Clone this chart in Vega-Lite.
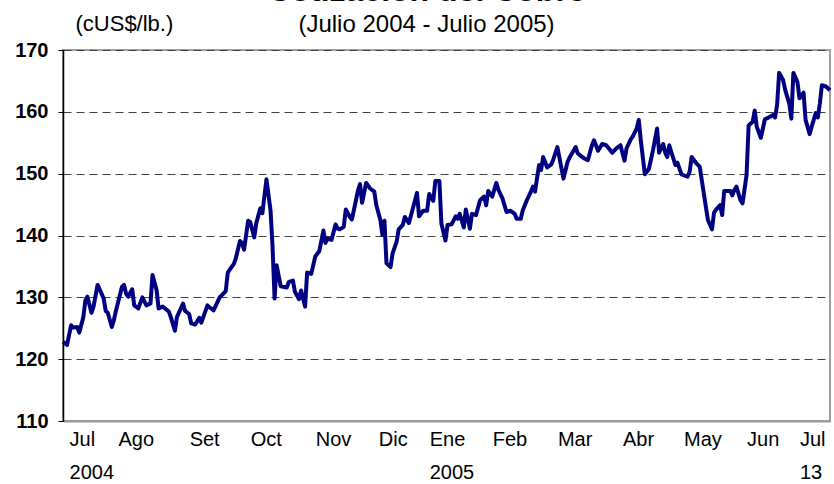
{
  "$schema": "https://vega.github.io/schema/vega-lite/v6.json",
  "autosize": {"type": "none"},
  "width": 767,
  "height": 371,
  "padding": {"left": 63, "top": 50, "right": 4, "bottom": 63},
  "background": "white",
  "config": {
    "font": "Liberation Sans",
    "view": {"stroke": "#a0a0a0", "strokeWidth": 2}
  },
  "title": {
    "text": "Cotización del Cobre",
    "subtitle": "(Julio 2004 - Julio 2005)",
    "fontSize": 32,
    "fontWeight": "bold",
    "color": "black",
    "subtitleFontSize": 24,
    "subtitleColor": "black",
    "subtitlePadding": 5,
    "anchor": "middle",
    "dx": -20,
    "dy": 39,
    "offset": 13
  },
  "data": {
    "values": [
      {"fecha": "2004-07-01", "precio": 122.8},
      {"fecha": "2004-07-03", "precio": 122.3},
      {"fecha": "2004-07-05", "precio": 125.5},
      {"fecha": "2004-07-06", "precio": 125.1},
      {"fecha": "2004-07-08", "precio": 125.2},
      {"fecha": "2004-07-09", "precio": 124.3},
      {"fecha": "2004-07-11", "precio": 126.8},
      {"fecha": "2004-07-12", "precio": 129.5},
      {"fecha": "2004-07-13", "precio": 130.1},
      {"fecha": "2004-07-15", "precio": 127.5},
      {"fecha": "2004-07-16", "precio": 128.5},
      {"fecha": "2004-07-18", "precio": 132.0},
      {"fecha": "2004-07-19", "precio": 131.3},
      {"fecha": "2004-07-21", "precio": 129.8},
      {"fecha": "2004-07-22", "precio": 127.8},
      {"fecha": "2004-07-23", "precio": 127.5},
      {"fecha": "2004-07-25", "precio": 125.2},
      {"fecha": "2004-07-26", "precio": 126.3},
      {"fecha": "2004-07-27", "precio": 127.8},
      {"fecha": "2004-07-30", "precio": 131.7},
      {"fecha": "2004-07-31", "precio": 132.0},
      {"fecha": "2004-08-01", "precio": 130.6},
      {"fecha": "2004-08-02", "precio": 130.1},
      {"fecha": "2004-08-04", "precio": 131.3},
      {"fecha": "2004-08-05", "precio": 128.7},
      {"fecha": "2004-08-07", "precio": 128.2},
      {"fecha": "2004-08-09", "precio": 130.0},
      {"fecha": "2004-08-11", "precio": 128.7},
      {"fecha": "2004-08-13", "precio": 129.0},
      {"fecha": "2004-08-14", "precio": 133.6},
      {"fecha": "2004-08-16", "precio": 131.2},
      {"fecha": "2004-08-17", "precio": 128.2},
      {"fecha": "2004-08-19", "precio": 128.5},
      {"fecha": "2004-08-22", "precio": 127.7},
      {"fecha": "2004-08-23", "precio": 126.8},
      {"fecha": "2004-08-25", "precio": 124.6},
      {"fecha": "2004-08-26", "precio": 126.8},
      {"fecha": "2004-08-29", "precio": 129.0},
      {"fecha": "2004-08-30", "precio": 127.8},
      {"fecha": "2004-09-01", "precio": 127.3},
      {"fecha": "2004-09-02", "precio": 125.8},
      {"fecha": "2004-09-04", "precio": 125.6},
      {"fecha": "2004-09-06", "precio": 126.7},
      {"fecha": "2004-09-07", "precio": 125.9},
      {"fecha": "2004-09-10", "precio": 128.7},
      {"fecha": "2004-09-11", "precio": 128.4},
      {"fecha": "2004-09-13", "precio": 127.9},
      {"fecha": "2004-09-16", "precio": 130.0},
      {"fecha": "2004-09-17", "precio": 130.3},
      {"fecha": "2004-09-19", "precio": 131.0},
      {"fecha": "2004-09-20", "precio": 134.0},
      {"fecha": "2004-09-21", "precio": 134.5},
      {"fecha": "2004-09-23", "precio": 135.4},
      {"fecha": "2004-09-24", "precio": 136.4},
      {"fecha": "2004-09-26", "precio": 139.1},
      {"fecha": "2004-09-27", "precio": 138.8},
      {"fecha": "2004-09-28", "precio": 137.7},
      {"fecha": "2004-09-30", "precio": 142.4},
      {"fecha": "2004-10-01", "precio": 142.2},
      {"fecha": "2004-10-03", "precio": 139.7},
      {"fecha": "2004-10-04", "precio": 142.0},
      {"fecha": "2004-10-06", "precio": 144.4},
      {"fecha": "2004-10-07", "precio": 143.6},
      {"fecha": "2004-10-09", "precio": 149.1},
      {"fecha": "2004-10-11", "precio": 144.1},
      {"fecha": "2004-10-12", "precio": 138.2},
      {"fecha": "2004-10-13", "precio": 129.8},
      {"fecha": "2004-10-14", "precio": 135.2},
      {"fecha": "2004-10-16", "precio": 131.8},
      {"fecha": "2004-10-19", "precio": 131.6},
      {"fecha": "2004-10-20", "precio": 132.5},
      {"fecha": "2004-10-22", "precio": 132.7},
      {"fecha": "2004-10-23", "precio": 130.9},
      {"fecha": "2004-10-25", "precio": 129.7},
      {"fecha": "2004-10-26", "precio": 131.1},
      {"fecha": "2004-10-28", "precio": 128.5},
      {"fecha": "2004-10-29", "precio": 134.0},
      {"fecha": "2004-10-31", "precio": 133.8},
      {"fecha": "2004-11-02", "precio": 136.6},
      {"fecha": "2004-11-04", "precio": 137.5},
      {"fecha": "2004-11-06", "precio": 140.8},
      {"fecha": "2004-11-07", "precio": 138.8},
      {"fecha": "2004-11-08", "precio": 139.5},
      {"fecha": "2004-11-10", "precio": 139.3},
      {"fecha": "2004-11-12", "precio": 141.8},
      {"fecha": "2004-11-13", "precio": 141.1},
      {"fecha": "2004-11-14", "precio": 141.0},
      {"fecha": "2004-11-16", "precio": 141.4},
      {"fecha": "2004-11-17", "precio": 144.2},
      {"fecha": "2004-11-19", "precio": 143.0},
      {"fecha": "2004-11-20", "precio": 142.6},
      {"fecha": "2004-11-22", "precio": 145.7},
      {"fecha": "2004-11-23", "precio": 147.3},
      {"fecha": "2004-11-24", "precio": 148.3},
      {"fecha": "2004-11-25", "precio": 145.3},
      {"fecha": "2004-11-27", "precio": 148.5},
      {"fecha": "2004-11-29", "precio": 147.6},
      {"fecha": "2004-12-01", "precio": 147.1},
      {"fecha": "2004-12-02", "precio": 144.9},
      {"fecha": "2004-12-04", "precio": 142.5},
      {"fecha": "2004-12-05", "precio": 140.1},
      {"fecha": "2004-12-06", "precio": 142.4},
      {"fecha": "2004-12-07", "precio": 135.5},
      {"fecha": "2004-12-09", "precio": 134.9},
      {"fecha": "2004-12-10", "precio": 137.1},
      {"fecha": "2004-12-12", "precio": 139.0},
      {"fecha": "2004-12-13", "precio": 141.0},
      {"fecha": "2004-12-15", "precio": 141.7},
      {"fecha": "2004-12-16", "precio": 143.0},
      {"fecha": "2004-12-18", "precio": 142.0},
      {"fecha": "2004-12-20", "precio": 144.4},
      {"fecha": "2004-12-22", "precio": 146.9},
      {"fecha": "2004-12-23", "precio": 143.1},
      {"fecha": "2004-12-25", "precio": 144.0},
      {"fecha": "2004-12-27", "precio": 144.0},
      {"fecha": "2004-12-28", "precio": 146.7},
      {"fecha": "2004-12-30", "precio": 145.6},
      {"fecha": "2004-12-31", "precio": 148.8},
      {"fecha": "2005-01-02", "precio": 148.8},
      {"fecha": "2005-01-03", "precio": 141.9},
      {"fecha": "2005-01-05", "precio": 139.2},
      {"fecha": "2005-01-06", "precio": 141.7},
      {"fecha": "2005-01-08", "precio": 141.8},
      {"fecha": "2005-01-10", "precio": 143.1},
      {"fecha": "2005-01-11", "precio": 142.7},
      {"fecha": "2005-01-12", "precio": 143.5},
      {"fecha": "2005-01-14", "precio": 141.3},
      {"fecha": "2005-01-15", "precio": 144.2},
      {"fecha": "2005-01-17", "precio": 141.1},
      {"fecha": "2005-01-18", "precio": 143.5},
      {"fecha": "2005-01-20", "precio": 143.3},
      {"fecha": "2005-01-22", "precio": 145.7},
      {"fecha": "2005-01-24", "precio": 146.3},
      {"fecha": "2005-01-25", "precio": 144.9},
      {"fecha": "2005-01-26", "precio": 147.2},
      {"fecha": "2005-01-28", "precio": 146.3},
      {"fecha": "2005-01-30", "precio": 148.5},
      {"fecha": "2005-01-31", "precio": 147.4},
      {"fecha": "2005-02-02", "precio": 146.0},
      {"fecha": "2005-02-04", "precio": 143.8},
      {"fecha": "2005-02-06", "precio": 144.0},
      {"fecha": "2005-02-08", "precio": 143.5},
      {"fecha": "2005-02-09", "precio": 142.7},
      {"fecha": "2005-02-11", "precio": 142.7},
      {"fecha": "2005-02-12", "precio": 144.1},
      {"fecha": "2005-02-14", "precio": 145.7},
      {"fecha": "2005-02-16", "precio": 147.1},
      {"fecha": "2005-02-17", "precio": 147.9},
      {"fecha": "2005-02-18", "precio": 147.1},
      {"fecha": "2005-02-20", "precio": 151.4},
      {"fecha": "2005-02-21", "precio": 150.6},
      {"fecha": "2005-02-22", "precio": 152.7},
      {"fecha": "2005-02-24", "precio": 151.0},
      {"fecha": "2005-02-26", "precio": 151.5},
      {"fecha": "2005-02-27", "precio": 152.3},
      {"fecha": "2005-03-01", "precio": 154.3},
      {"fecha": "2005-03-04", "precio": 149.2},
      {"fecha": "2005-03-06", "precio": 151.9},
      {"fecha": "2005-03-07", "precio": 152.6},
      {"fecha": "2005-03-10", "precio": 154.3},
      {"fecha": "2005-03-11", "precio": 153.3},
      {"fecha": "2005-03-12", "precio": 153.0},
      {"fecha": "2005-03-14", "precio": 152.5},
      {"fecha": "2005-03-16", "precio": 152.2},
      {"fecha": "2005-03-18", "precio": 154.6},
      {"fecha": "2005-03-19", "precio": 155.4},
      {"fecha": "2005-03-21", "precio": 153.7},
      {"fecha": "2005-03-23", "precio": 154.8},
      {"fecha": "2005-03-25", "precio": 154.6},
      {"fecha": "2005-03-28", "precio": 153.4},
      {"fecha": "2005-03-30", "precio": 154.1},
      {"fecha": "2005-04-01", "precio": 154.6},
      {"fecha": "2005-04-03", "precio": 152.1},
      {"fecha": "2005-04-04", "precio": 154.1},
      {"fecha": "2005-04-06", "precio": 155.5},
      {"fecha": "2005-04-07", "precio": 156.0},
      {"fecha": "2005-04-09", "precio": 157.3},
      {"fecha": "2005-04-10", "precio": 158.7},
      {"fecha": "2005-04-11", "precio": 155.4},
      {"fecha": "2005-04-13", "precio": 149.9},
      {"fecha": "2005-04-15", "precio": 150.8},
      {"fecha": "2005-04-17", "precio": 153.8},
      {"fecha": "2005-04-19", "precio": 157.3},
      {"fecha": "2005-04-20", "precio": 153.4},
      {"fecha": "2005-04-22", "precio": 154.8},
      {"fecha": "2005-04-23", "precio": 153.4},
      {"fecha": "2005-04-24", "precio": 152.7},
      {"fecha": "2005-04-25", "precio": 154.6},
      {"fecha": "2005-04-26", "precio": 153.5},
      {"fecha": "2005-04-28", "precio": 151.4},
      {"fecha": "2005-04-29", "precio": 151.8},
      {"fecha": "2005-05-01", "precio": 149.9},
      {"fecha": "2005-05-04", "precio": 149.5},
      {"fecha": "2005-05-05", "precio": 150.3},
      {"fecha": "2005-05-06", "precio": 152.7},
      {"fecha": "2005-05-08", "precio": 151.8},
      {"fecha": "2005-05-10", "precio": 151.1},
      {"fecha": "2005-05-11", "precio": 148.9},
      {"fecha": "2005-05-13", "precio": 144.6},
      {"fecha": "2005-05-14", "precio": 142.5},
      {"fecha": "2005-05-16", "precio": 141.0},
      {"fecha": "2005-05-17", "precio": 143.7},
      {"fecha": "2005-05-18", "precio": 144.2},
      {"fecha": "2005-05-20", "precio": 144.9},
      {"fecha": "2005-05-21", "precio": 143.3},
      {"fecha": "2005-05-22", "precio": 147.2},
      {"fecha": "2005-05-25", "precio": 147.2},
      {"fecha": "2005-05-26", "precio": 146.5},
      {"fecha": "2005-05-27", "precio": 147.4},
      {"fecha": "2005-05-28", "precio": 147.9},
      {"fecha": "2005-05-30", "precio": 145.7},
      {"fecha": "2005-05-31", "precio": 145.2},
      {"fecha": "2005-06-02", "precio": 149.8},
      {"fecha": "2005-06-03", "precio": 157.8},
      {"fecha": "2005-06-05", "precio": 158.4},
      {"fecha": "2005-06-06", "precio": 160.2},
      {"fecha": "2005-06-07", "precio": 157.6},
      {"fecha": "2005-06-09", "precio": 155.8},
      {"fecha": "2005-06-10", "precio": 157.3},
      {"fecha": "2005-06-11", "precio": 158.8},
      {"fecha": "2005-06-13", "precio": 159.1},
      {"fecha": "2005-06-15", "precio": 159.5},
      {"fecha": "2005-06-16", "precio": 159.1},
      {"fecha": "2005-06-17", "precio": 161.1},
      {"fecha": "2005-06-18", "precio": 166.3},
      {"fecha": "2005-06-20", "precio": 165.1},
      {"fecha": "2005-06-21", "precio": 163.5},
      {"fecha": "2005-06-23", "precio": 161.3},
      {"fecha": "2005-06-24", "precio": 158.9},
      {"fecha": "2005-06-25", "precio": 166.3},
      {"fecha": "2005-06-27", "precio": 164.8},
      {"fecha": "2005-06-28", "precio": 162.2},
      {"fecha": "2005-06-30", "precio": 163.1},
      {"fecha": "2005-07-01", "precio": 158.7},
      {"fecha": "2005-07-03", "precio": 156.4},
      {"fecha": "2005-07-04", "precio": 157.6},
      {"fecha": "2005-07-06", "precio": 159.8},
      {"fecha": "2005-07-07", "precio": 159.1},
      {"fecha": "2005-07-08", "precio": 161.3},
      {"fecha": "2005-07-09", "precio": 164.3},
      {"fecha": "2005-07-11", "precio": 164.1},
      {"fecha": "2005-07-13", "precio": 163.5}
    ]
  },
  "mark": {"type": "line", "color": "#000080", "strokeWidth": 4, "strokeJoin": "round"},
  "encoding": {
    "x": {
      "field": "fecha",
      "type": "temporal",
      "scale": {"domain": [{"year": 2004, "month": 7, "date": 1}, {"year": 2005, "month": 7, "date": 13}]},
      "axis": {
        "title": null,
        "grid": false,
        "ticks": false,
        "domainColor": "#999999",
        "domainWidth": 2,
        "labelFontSize": 20,
        "labelColor": "black",
        "labelAlign": "left",
        "labelBaseline": "top",
        "labelPadding": 8,
        "labelLineHeight": 33,
        "labelFlush": false,
        "labelOverlap": false,
        "labelBound": false,
        "values": [
          {"year": 2004, "month": 7, "date": 4},
          {"year": 2004, "month": 7, "date": 28},
          {"year": 2004, "month": 9, "date": 1},
          {"year": 2004, "month": 10, "date": 1},
          {"year": 2004, "month": 11, "date": 2},
          {"year": 2004, "month": 12, "date": 3},
          {"year": 2004, "month": 12, "date": 28},
          {"year": 2005, "month": 1, "date": 28},
          {"year": 2005, "month": 3, "date": 1},
          {"year": 2005, "month": 4, "date": 2},
          {"year": 2005, "month": 5, "date": 2},
          {"year": 2005, "month": 6, "date": 2},
          {"year": 2005, "month": 6, "date": 28}
        ],
        "labelExpr": "{'2004-07-04': ['Jul', '2004'], '2004-07-28': 'Ago', '2004-09-01': 'Set', '2004-10-01': 'Oct', '2004-11-02': 'Nov', '2004-12-03': 'Dic', '2004-12-28': ['Ene', '2005'], '2005-01-28': 'Feb', '2005-03-01': 'Mar', '2005-04-02': 'Abr', '2005-05-02': 'May', '2005-06-02': 'Jun', '2005-06-28': ['Jul', '13']}[timeFormat(datum.value, '%Y-%m-%d')]"
      }
    },
    "y": {
      "field": "precio",
      "type": "quantitative",
      "scale": {"domain": [110, 170], "nice": false, "zero": false},
      "axis": {
        "title": "(cUS$/lb.)",
        "titleAngle": 0,
        "titleAlign": "left",
        "titleBaseline": "alphabetic",
        "titleX": 12,
        "titleY": -20,
        "titleFontSize": 22,
        "titleFontWeight": "normal",
        "titleColor": "black",
        "values": [110, 120, 130, 140, 150, 160, 170],
        "format": "d",
        "labelFontSize": 20,
        "labelFontWeight": "bold",
        "labelColor": "black",
        "labelPadding": 10,
        "tickSize": 5,
        "tickColor": "black",
        "domainColor": "black",
        "domainWidth": 1.5,
        "grid": true,
        "gridColor": "#404040",
        "gridDash": [8, 5],
        "gridWidth": 1
      }
    }
  }
}
